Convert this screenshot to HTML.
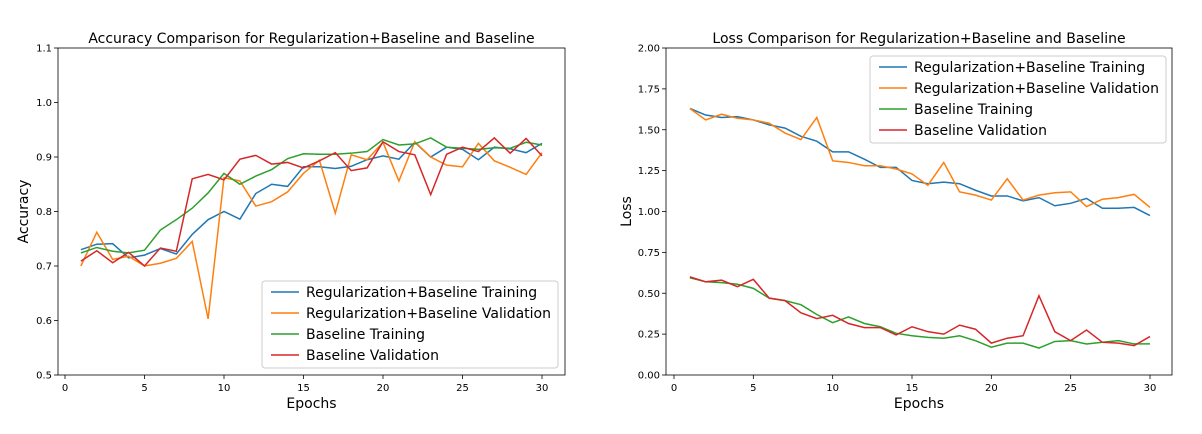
<!DOCTYPE html>
<html><head><meta charset="utf-8"><style>
body{margin:0;background:#fff;font-family:"Liberation Sans","DejaVu Sans",sans-serif;}
svg text{font-family:"DejaVu Sans","Liberation Sans",sans-serif;fill:#000;}
</style></head><body>
<svg id="c" width="1202" height="429"></svg>
<script>
const epochs=[1,2,3,4,5,6,7,8,9,10,11,12,13,14,15,16,17,18,19,20,21,22,23,24,25,26,27,28,29,30];
const accRegTrain=[0.73,0.74,0.741,0.715,0.72,0.732,0.722,0.758,0.785,0.80,0.786,0.833,0.85,0.846,0.882,0.882,0.879,0.883,0.895,0.902,0.896,0.927,0.9,0.918,0.914,0.895,0.918,0.915,0.908,0.925];
const accRegVal=[0.70,0.762,0.712,0.718,0.70,0.705,0.714,0.745,0.603,0.862,0.856,0.81,0.818,0.836,0.87,0.894,0.797,0.904,0.895,0.927,0.856,0.928,0.90,0.885,0.882,0.925,0.893,0.881,0.868,0.908];
const accBaseTrain=[0.724,0.734,0.727,0.724,0.729,0.766,0.785,0.806,0.834,0.87,0.85,0.865,0.877,0.897,0.906,0.905,0.905,0.907,0.91,0.932,0.922,0.924,0.935,0.918,0.916,0.914,0.917,0.916,0.927,0.922];
const accBaseVal=[0.709,0.728,0.706,0.725,0.70,0.733,0.727,0.86,0.868,0.858,0.896,0.903,0.887,0.89,0.88,0.893,0.908,0.875,0.88,0.928,0.91,0.904,0.831,0.905,0.918,0.91,0.935,0.907,0.934,0.902];
const lossRegTrain=[1.63,1.59,1.575,1.58,1.56,1.53,1.51,1.46,1.43,1.365,1.365,1.32,1.27,1.27,1.19,1.17,1.18,1.17,1.13,1.095,1.095,1.065,1.085,1.035,1.05,1.08,1.02,1.02,1.025,0.975];
const lossRegVal=[1.63,1.56,1.595,1.57,1.56,1.54,1.48,1.44,1.575,1.31,1.30,1.28,1.28,1.26,1.23,1.16,1.30,1.12,1.10,1.07,1.20,1.07,1.10,1.115,1.12,1.03,1.075,1.085,1.105,1.025];
const lossBaseTrain=[0.595,0.57,0.565,0.555,0.53,0.47,0.455,0.43,0.37,0.32,0.355,0.315,0.295,0.255,0.24,0.23,0.225,0.24,0.21,0.17,0.195,0.195,0.165,0.205,0.21,0.19,0.2,0.21,0.19,0.19];
const lossBaseVal=[0.60,0.57,0.58,0.54,0.585,0.47,0.455,0.38,0.345,0.365,0.315,0.29,0.29,0.245,0.295,0.265,0.25,0.305,0.28,0.195,0.225,0.24,0.485,0.265,0.21,0.275,0.20,0.195,0.18,0.235];
const xTicks=[0,5,10,15,20,25,30];
const accTicks=[0.5,0.6,0.7,0.8,0.9,1.0,1.1];
const lossTicks=[0,0.25,0.5,0.75,1.0,1.25,1.5,1.75,2.0];
const seriesNames=["Regularization+Baseline Training","Regularization+Baseline Validation","Baseline Training","Baseline Validation"];
const colors=["#1f77b4","#ff7f0e","#2ca02c","#d62728"];
const NS="http://www.w3.org/2000/svg";
const svg=document.getElementById('c');
function el(t,a,p){const e=document.createElementNS(NS,t);for(const k in a)e.setAttribute(k,a[k]);(p||svg).appendChild(e);return e;}
function chart(o){
  const g=el('g',{});
  
  
  const L=o.L,R=o.R,T=48,B=375;
  const xs=v=>o.x0+(v-0)*(o.x30-o.x0)/30;
  const ys=v=>B-(v-o.ymin)*(B-T)/(o.ymax-o.ymin);
  xTicks.forEach(t=>{const x=xs(t);el('line',{x1:x,x2:x,y1:B,y2:B+4,stroke:'#000','stroke-width':0.8},g);
    const tx=el('text',{x:x,y:B+16,'font-size':10,'text-anchor':'middle'},g);tx.textContent=t;
    });
  o.yt.forEach(t=>{const y=ys(t);el('line',{x1:L-4,x2:L,y1:y,y2:y,stroke:'#000','stroke-width':0.8},g);
    const tx=el('text',{x:L-6,y:y+3.5,'font-size':10,'text-anchor':'end'},g);tx.textContent=t.toFixed(o.dec);
    });
  o.series.forEach((s,i)=>{const p=el('polyline',{points:s.map((v,j)=>xs(epochs[j])+','+ys(v)).join(' '),fill:'none',stroke:colors[i],'stroke-width':1.5},g);
    
    });
  el('rect',{x:L,y:T,width:R-L,height:B-T,fill:'none',stroke:'#000','stroke-width':0.8},g);
  const ti=el('text',{x:(L+R)/2,y:43,'font-size':14,'text-anchor':'middle'},g);ti.textContent=o.title;
  
  const xl=el('text',{x:(L+R)/2,y:408,'font-size':14,'text-anchor':'middle'},g);xl.textContent='Epochs';
  
  const yl=el('text',{x:0,y:0,'font-size':14,'text-anchor':'middle',transform:`translate(${o.ylx},${(T+B)/2}) rotate(-90)`},g);yl.textContent=o.ylabel;
  
  const lg=el('g',{},g);
  
  el('rect',{x:o.lx,y:o.ly,width:296,height:87,rx:3,fill:'#fff','fill-opacity':0.8,stroke:'#ccc'},lg);
  seriesNames.forEach((n,i)=>{const y=o.ly+11+i*21;
    el('line',{x1:o.lx+9,x2:o.lx+37,y1:y,y2:y,stroke:colors[i],'stroke-width':1.5},lg);
    const t=el('text',{x:o.lx+44,y:y+5,'font-size':14},lg);t.textContent=n;
    });
}
chart({name:'accuracy-chart',L:58,R:565,x0:65,x30:542,ymin:0.5,ymax:1.1,yt:accTicks,dec:1,title:'Accuracy Comparison for Regularization+Baseline and Baseline',ylabel:'Accuracy',ylx:28,series:[accRegTrain,accRegVal,accBaseTrain,accBaseVal],lx:262,ly:281});
chart({name:'loss-chart',L:666,R:1172,x0:674,x30:1150,ymin:0,ymax:2,yt:lossTicks,dec:2,title:'Loss Comparison for Regularization+Baseline and Baseline',ylabel:'Loss',ylx:631,series:[lossRegTrain,lossRegVal,lossBaseTrain,lossBaseVal],lx:870,ly:56});
</script>
</body></html>
